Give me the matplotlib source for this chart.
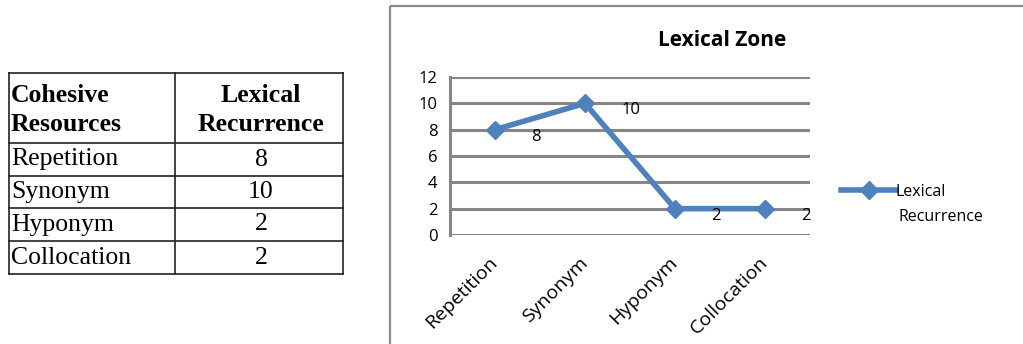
import matplotlib
matplotlib.use("Agg")
import matplotlib.pyplot as plt
from matplotlib.patches import Rectangle

# Lexical recurrence counts per cohesive resource
resources = ["Repetition", "Synonym", "Hyponym", "Collocation"]
recurrence = [8, 10, 2, 2]
chart_title = "Lexical Zone"
header_left = "Cohesive\nResources"
header_right = "Lexical\nRecurrence"
y_ticks = [0, 2, 4, 6, 8, 10, 12]

W, H = 1023, 344
fig = plt.figure(figsize=(W / 100, H / 100), dpi=100)
fig.patch.set_facecolor("white")

# overlay in pixel coordinates for the table and the chart frame
over = fig.add_axes([0, 0, 1, 1])
over.set_xlim(0, W)
over.set_ylim(H, 0)
over.axis("off")

# chart frame (open at the right and bottom)
over.add_patch(Rectangle((390, 6), 700, 400, fill=False, edgecolor="#8c8c8c", lw=1.6))

# ---- table on the left ----
col_x = [9, 175, 343]
row_y = [73, 143, 176, 208, 241, 274]
for x in col_x:
    over.plot([x, x], [row_y[0], row_y[-1]], color="#222222", lw=1.2)
for y in row_y:
    over.plot([col_x[0], col_x[-1]], [y, y], color="#222222", lw=1.2)

serif = "Liberation Serif"
fs_tab = 18.5
over.text(11, (row_y[0] + row_y[1]) / 2 + 2, header_left, ha="left", va="center",
          fontsize=fs_tab, fontweight="bold", family=serif, linespacing=1.3)
over.text((col_x[1] + col_x[2]) / 2 + 2, (row_y[0] + row_y[1]) / 2 + 2, header_right,
          ha="center", va="center", fontsize=fs_tab, fontweight="bold", family=serif,
          linespacing=1.3, multialignment="center")
for i, (name, val) in enumerate(zip(resources, recurrence)):
    yc = (row_y[i + 1] + row_y[i + 2]) / 2
    over.text(11, yc, name, ha="left", va="center", fontsize=fs_tab, family=serif)
    over.text((col_x[1] + col_x[2]) / 2 + 2, yc, str(val), ha="center", va="center",
              fontsize=fs_tab, family=serif)

# ---- line chart ----
sans = "Open Sans"
ax = fig.add_axes([450 / W, 1 - 235 / H, 360 / W, 158 / H])
ax.set_facecolor("none")
x = list(range(len(resources)))
line, = ax.plot(x, recurrence, color="#4F81BD", lw=4, marker="D", markersize=9.5,
                solid_joinstyle="miter", zorder=3)
for xi, v in zip(x, recurrence):
    ax.annotate(str(v), (xi, v), xytext=(26, -5), textcoords="offset points",
                ha="left", va="center", fontsize=12, family=sans)

ax.set_xlim(-0.5, len(resources) - 0.5)
ax.set_ylim(0, 12)
ax.set_yticks(y_ticks)
ax.set_xticks(x)
ax.set_xticklabels(resources, rotation=45, ha="right", va="center",
                   rotation_mode="anchor", family=sans, fontsize=14)
for lab in ax.get_yticklabels():
    lab.set_family(sans)
    lab.set_fontsize(12)
ax.tick_params(axis="y", length=0, pad=9)
ax.tick_params(axis="x", length=0, pad=18)
ax.grid(axis="y", color="#868686", lw=2.2)
ax.set_axisbelow(True)
for s in ["top", "right", "bottom"]:
    ax.spines[s].set_visible(False)
ax.spines["left"].set_color("#868686")
ax.spines["left"].set_linewidth(2.2)

fig.text(722 / W, 1 - 41 / H, chart_title, ha="center", va="center",
         fontsize=15, fontweight="bold", family=sans)

# legend: handle on the first line, wrapped name below
leg = ax.legend([line], ["Lexical"], loc="center left",
                bbox_to_anchor=(827 / W, 1 - 192 / H), bbox_transform=fig.transFigure,
                frameon=False, handlelength=3.4, handletextpad=0.0,
                prop={"family": sans, "size": 11.5})
fig.text(898 / W, 1 - 217 / H, "Recurrence", ha="left", va="center",
         fontsize=11.5, family=sans)

fig.savefig("out.png", dpi=100)
